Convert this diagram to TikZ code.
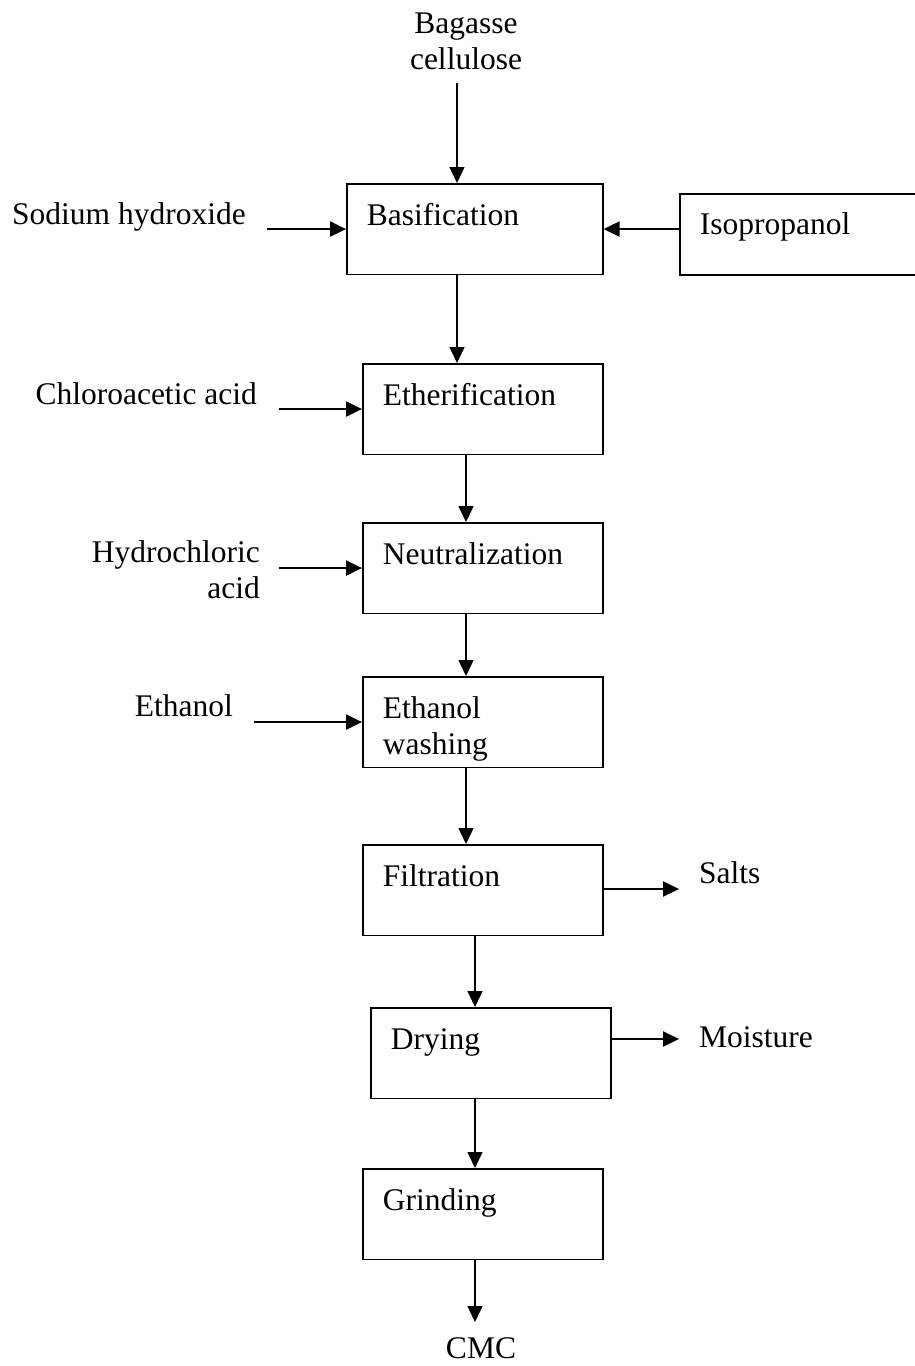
\documentclass[tikz,border=0pt]{standalone}
\usepackage{fontspec}
\setmainfont{Liberation Serif}
\usetikzlibrary{arrows.meta}

\tikzset{
  stepbox/.style={draw, line width=1.6pt, anchor=north west, inner xsep=20pt, inner ysep=0pt,
    text width=#1, align=left, text height=42pt, text depth=48.5pt},
  stepbox/.default=200pt,
  feedtext/.style={inner sep=0pt},
  flow/.style={line width=1.5pt, -{Triangle[length=16pt,width=15pt]}},
  feed/.style={line width=2.2pt, -{Triangle[length=16pt,width=15pt]}},
}

\begin{document}
\begin{tikzpicture}[x=1pt, y=-1pt, font=\fontsize{31.5pt}{36pt}\selectfont]
  \useasboundingbox (0,0) rectangle (915,1366);
  \clip (0,0) rectangle (915,1366);

  %% process steps
  \node[stepbox=216pt] (basif) at (346,183) {Basification};
  \node[stepbox=221pt, text height=41pt, text depth=40pt] (iso) at (679,193) {Isopropanol};
  \node[stepbox] (ether) at (362,363) {Etherification};
  \node[stepbox] (neut) at (362,522) {Neutralization};
  \node[stepbox] (ethw) at (362,676) {Ethanol\\washing};
  \node[stepbox] (filt) at (362,844) {Filtration};
  \node[stepbox] (dry) at (370,1007) {Drying};
  \node[stepbox] (grind) at (362,1168) {Grinding};

  %% feeds and products
  \node[feedtext, anchor=base, text width=140pt, align=center] (bagasse) at (466,33) {Bagasse\\cellulose};
  \node[feedtext, anchor=base east] (naoh) at (246,224) {Sodium hydroxide};
  \node[feedtext, anchor=base east] (chloro) at (257,404) {Chloroacetic acid};
  \node[feedtext, anchor=base east, text width=180pt, align=right] (hcl) at (260,562) {Hydrochloric\\acid};
  \node[feedtext, anchor=base east] (ethanol) at (233,716) {Ethanol};
  \node[feedtext, anchor=base west] (salts) at (699,883) {Salts};
  \node[feedtext, anchor=base west] (moist) at (699,1047) {Moisture};
  \node[feedtext, anchor=base] (cmc) at (481,1358) {CMC};

  %% columns of the main line, free arrow ends
  \coordinate (col1) at (457,0);
  \coordinate (col2) at (466,0);
  \coordinate (col3) at (475,0);
  \coordinate (bag-out) at (457,83);
  \coordinate (cmc-in) at (475,1322);
  \coordinate (naoh-out) at (267,0);
  \coordinate (chloro-out) at (279,0);
  \coordinate (hcl-out) at (279,0);
  \coordinate (ethanol-out) at (254,0);
  \coordinate (salts-in) at (679,889);
  \coordinate (moist-in) at (679,1039);

  %% main line
  \draw[flow] (bag-out) -- (bag-out |- basif.north);
  \draw[flow] (basif.south -| col1) -- (ether.north -| col1);
  \draw[flow] (ether.south -| col2) -- (neut.north -| col2);
  \draw[flow] (neut.south -| col2) -- (ethw.north -| col2);
  \draw[flow] (ethw.south -| col2) -- (filt.north -| col2);
  \draw[flow] (filt.south -| col3) -- (dry.north -| col3);
  \draw[flow] (dry.south -| col3) -- (grind.north -| col3);
  \draw[flow] (grind.south -| col3) -- (cmc-in);

  %% side streams
  \draw[feed] (basif.west -| naoh-out) -- (basif.west);
  \draw[feed] (iso.west |- basif.east) -- (basif.east);
  \draw[feed] (ether.west -| chloro-out) -- (ether.west);
  \draw[feed] (neut.west -| hcl-out) -- (neut.west);
  \draw[feed] (ethw.west -| ethanol-out) -- (ethw.west);
  \draw[feed] (filt.east |- salts-in) -- (salts-in);
  \draw[feed] (dry.east |- moist-in) -- (moist-in);
\end{tikzpicture}
\end{document}
